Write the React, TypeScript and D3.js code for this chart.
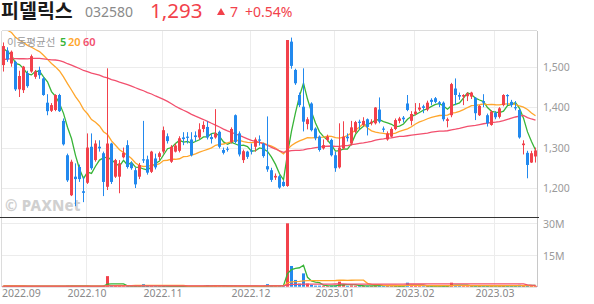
import React from "react";
import * as d3 from "d3";

const W = 594;
const H = 304;

const monthLabels = ["2022.09", "2022.10", "2022.11", "2022.12", "2023.01", "2023.02", "2023.03"];
const monthStartIndex = [0, 21, 40, 62, 83, 103, 123];
const priceTicks = [1200, 1300, 1400, 1500];
const priceTickLabels = ["1,200", "1,300", "1,400", "1,500"];
const volumeTicks = [15, 30];
const volumeTickLabels = ["15M", "30M"];

const opens = [
  1504, 1540, 1508, 1512, 1444, 1442, 1484, 1488, 1475, 1492,
  1471, 1411, 1391, 1393, 1430, 1366, 1281, 1182, 1228, 1252,
  1192, 1213, 1302, 1269, 1302, 1286, 1203, 1310, 1228, 1228,
  1276, 1306, 1261, 1244, 1228, 1271, 1271, 1240, 1273, 1277,
  1290, 1328, 1265, 1290, 1292, 1325, 1327, 1320, 1330, 1325,
  1346, 1351, 1326, 1325, 1339, 1294, 1297, 1314, 1380, 1335,
  1269, 1290, 1293, 1302, 1320, 1310, 1254, 1244, 1226, 1229,
  1215, 1205, 1562, 1492, 1430, 1401, 1358, 1409, 1347, 1327,
  1298, 1319, 1319, 1281, 1251, 1298, 1327, 1310, 1339, 1364,
  1356, 1370, 1360, 1360, 1394, 1347, 1320, 1327, 1346, 1366,
  1374, 1409, 1366, 1383, 1394, 1402, 1394, 1418, 1422, 1412,
  1411, 1366, 1380, 1446, 1430, 1426, 1427, 1426, 1423, 1380,
  1415, 1380, 1356, 1386, 1376, 1405, 1430, 1413, 1400, 1393,
  1306, 1287, 1263, 1278,
];
const highs = [
  1560, 1548, 1540, 1515, 1490, 1502, 1490, 1530, 1492, 1500,
  1475, 1432, 1410, 1432, 1433, 1372, 1285, 1270, 1261, 1258,
  1228, 1335, 1335, 1318, 1318, 1290, 1496, 1312, 1272, 1269,
  1300, 1318, 1266, 1250, 1262, 1366, 1280, 1292, 1285, 1290,
  1352, 1335, 1306, 1310, 1328, 1338, 1338, 1338, 1340, 1360,
  1365, 1365, 1335, 1395, 1342, 1300, 1302, 1350, 1382, 1340,
  1295, 1292, 1310, 1325, 1330, 1312, 1377, 1250, 1236, 1232,
  1218, 1566, 1572, 1495, 1436, 1496, 1375, 1412, 1350, 1330,
  1320, 1332, 1322, 1290, 1360, 1365, 1335, 1366, 1366, 1369,
  1375, 1372, 1370, 1400, 1424, 1352, 1340, 1350, 1372, 1376,
  1378, 1430, 1390, 1410, 1410, 1406, 1416, 1422, 1425, 1415,
  1414, 1374, 1460, 1471, 1436, 1432, 1436, 1438, 1425, 1405,
  1432, 1384, 1392, 1390, 1400, 1432, 1432, 1418, 1415, 1395,
  1318, 1292, 1292, 1300,
];
const lows = [
  1488, 1512, 1500, 1440, 1425, 1435, 1448, 1485, 1470, 1470,
  1428, 1380, 1388, 1390, 1388, 1305, 1215, 1180, 1155, 1215,
  1165, 1210, 1245, 1265, 1290, 1180, 1195, 1210, 1225, 1187,
  1273, 1248, 1245, 1200, 1222, 1262, 1233, 1237, 1246, 1268,
  1285, 1310, 1262, 1288, 1288, 1306, 1310, 1278, 1315, 1320,
  1338, 1320, 1310, 1322, 1298, 1283, 1290, 1310, 1310, 1278,
  1262, 1272, 1283, 1290, 1305, 1275, 1240, 1215, 1220, 1198,
  1203, 1203, 1495, 1455, 1400, 1340, 1345, 1340, 1318, 1290,
  1295, 1315, 1278, 1240, 1248, 1295, 1315, 1305, 1335, 1345,
  1352, 1330, 1355, 1357, 1360, 1338, 1317, 1325, 1343, 1360,
  1362, 1390, 1355, 1380, 1390, 1385, 1390, 1405, 1410, 1400,
  1365, 1350, 1375, 1405, 1418, 1405, 1415, 1420, 1368, 1378,
  1400, 1352, 1354, 1370, 1372, 1402, 1405, 1400, 1392, 1322,
  1283, 1224, 1262, 1263,
];
const closes = [
  1551, 1518, 1537, 1444, 1477, 1500, 1452, 1526, 1488, 1479,
  1430, 1390, 1405, 1430, 1390, 1308, 1219, 1265, 1222, 1222,
  1188, 1300, 1249, 1310, 1298, 1215, 1310, 1215, 1269, 1261,
  1287, 1252, 1249, 1209, 1257, 1268, 1238, 1290, 1251, 1286,
  1343, 1316, 1302, 1305, 1323, 1321, 1324, 1281, 1326, 1345,
  1356, 1325, 1321, 1335, 1302, 1287, 1295, 1346, 1314, 1283,
  1291, 1277, 1290, 1320, 1317, 1279, 1246, 1220, 1230, 1201,
  1205, 1566, 1502, 1459, 1405, 1364, 1370, 1343, 1323, 1294,
  1306, 1327, 1281, 1249, 1300, 1327, 1323, 1350, 1363, 1361,
  1366, 1351, 1364, 1399, 1364, 1344, 1335, 1346, 1368, 1372,
  1370, 1393, 1383, 1389, 1399, 1398, 1411, 1413, 1413, 1408,
  1370, 1370, 1457, 1430, 1426, 1430, 1434, 1436, 1385, 1403,
  1411, 1360, 1389, 1375, 1397, 1430, 1427, 1405, 1397, 1325,
  1310, 1257, 1286, 1293,
];
// volume in millions of shares
const volumes = [
  0.4, 0.3, 0.3, 0.4, 0.3, 0.3, 0.2, 0.3, 0.2, 0.2,
  0.3, 0.3, 0.2, 0.2, 0.2, 0.3, 0.5, 0.4, 0.3, 0.3,
  0.3, 0.3, 0.3, 0.2, 0.2, 0.4, 5.0, 0.8, 0.4, 0.3,
  0.2, 0.3, 0.2, 0.3, 0.2, 1.2, 0.4, 0.3, 0.2, 0.2,
  0.3, 0.2, 0.2, 0.2, 0.2, 0.2, 0.2, 0.2, 0.2, 0.2,
  0.3, 0.8, 0.2, 0.8, 0.3, 0.2, 0.2, 0.3, 0.4, 0.3,
  0.2, 0.2, 0.2, 0.2, 0.2, 0.3, 1.2, 0.4, 0.2, 0.3,
  0.3, 30.0, 9.8, 3.2, 1.5, 6.3, 1.5, 0.9, 0.5, 0.5,
  0.4, 0.3, 0.4, 0.5, 2.4, 1.0, 0.4, 0.6, 0.5, 0.3,
  0.4, 0.3, 0.3, 0.9, 0.7, 0.3, 0.3, 0.3, 0.4, 0.3,
  0.2, 1.9, 0.6, 0.4, 0.3, 0.3, 0.4, 0.3, 0.3, 0.3,
  0.5, 0.3, 1.9, 0.8, 0.4, 0.3, 0.3, 0.3, 0.5, 0.4,
  0.3, 0.4, 0.4, 0.3, 0.4, 0.6, 0.3, 0.3, 0.3, 0.9,
  0.7, 0.6, 0.4, 0.4,
];
// estimated sessions before the visible window (only feed the moving averages)
const priorCloses = [
  1460, 1470, 1455, 1480, 1490, 1475, 1465, 1470, 1485, 1495,
  1480, 1470, 1460, 1475, 1490, 1500, 1485, 1470, 1465, 1480,
  1475, 1470, 1460, 1455, 1470, 1465, 1450, 1445, 1460, 1470,
  1455, 1450, 1465, 1480, 1490, 1500, 1510, 1541, 1545, 1590,
  1620, 1650, 1680, 1625, 1610, 1590, 1620, 1600, 1585, 1610,
  1595, 1605, 1600, 1590, 1599, 1558, 1577, 1549, 1490,
];
const priorVolumes = [
  0.3, 0.2, 0.3, 0.2, 0.2, 0.3, 0.2, 0.2, 0.3, 0.2,
  0.2, 0.2, 0.3, 0.2, 0.2, 0.2, 0.3, 0.2, 0.2, 0.2,
  0.3, 0.2, 0.2, 0.2, 0.2, 0.3, 0.2, 0.2, 0.2, 0.3,
  0.2, 0.2, 0.3, 0.2, 0.2, 0.3, 0.3, 0.4, 0.3, 0.5,
  0.6, 0.5, 0.6, 0.4, 0.3, 0.3, 0.4, 0.3, 0.3, 0.3,
  0.3, 0.3, 0.2, 0.3, 0.3, 0.3, 0.4, 0.3, 0.4,
];
const maPeriods = [5, 20, 60];
const maColors = ["#38b438", "#ffa62b", "#f2506e"];

const UP = "#f2414b";
const DOWN = "#2289ee";
const FONT = "'Noto Sans', 'Noto Sans CJK KR', sans-serif";
const KFONT = "'Noto Sans CJK KR', 'Noto Sans', sans-serif";

const PL = 2;
const PR = 537;
const PT = 31;
const PB = 217;
const VB = 287;

function movingAverage(prior: number[], values: number[], n: number): number[] {
  const all = prior.concat(values);
  const off = prior.length;
  return values.map((_, i) => {
    const end = off + i;
    const start = end - n + 1;
    return d3.mean(all.slice(Math.max(0, start), end + 1)) as number;
  });
}

export default function App() {
  const n = closes.length;
  const x = d3.scaleLinear().domain([0, n - 1]).range([3.3, 535.3]);
  const y = d3.scaleLinear().domain([1200, 1500]).range([188, 66.7]);
  const yv = d3.scaleLinear().domain([0, 30]).range([286.7, 223.3]);
  const cx = (i: number) => Math.round(x(i));

  const priceMAs = maPeriods.map((p) => movingAverage(priorCloses, closes, p));
  const volMAs = maPeriods.map((p) => movingAverage(priorVolumes, volumes, p));

  const priceLine = d3
    .line<number>()
    .x((_, i) => cx(i) + 0.5)
    .y((d) => y(d));
  const volLine = d3
    .line<number>()
    .x((_, i) => cx(i) + 0.5)
    .y((d) => yv(d));

  const grid = "#ececec";

  return (
    <svg
      width={W}
      height={H}
      viewBox={`0 0 ${W} ${H}`}
      style={{ position: "absolute", left: 0, top: 0, background: "#fff" }}
    >
      <defs>
        <clipPath id="mainClip">
          <rect x={PL} y={PT} width={PR - PL} height={PB - PT} />
        </clipPath>
        <clipPath id="volClip">
          <rect x={PL} y={PB + 1} width={PR - PL} height={VB - PB - 1} />
        </clipPath>
      </defs>

      {/* header */}
      <text x={1} y={18} fontFamily={KFONT} fontSize={19.5} fontWeight={700} fill="#1a1a1a">
        피델릭스
      </text>
      <text x={85} y={16.5} fontFamily={FONT} fontSize={14} fill="#8a8a8a">
        032580
      </text>
      <text x={150} y={18} fontFamily={FONT} fontSize={20.5} fill={UP}>
        1,293
      </text>
      <path d="M217,15 L221,8 L225,15 Z" fill={UP} />
      <text x={230} y={16.5} fontFamily={FONT} fontSize={14} fill={UP}>
        7
      </text>
      <text x={245} y={16.5} fontFamily={FONT} fontSize={14} fill={UP}>
        +0.54%
      </text>

      {/* grid */}
      {priceTicks.map((t) => (
        <line key={"hp" + t} x1={PL} x2={PR} y1={Math.round(y(t)) + 0.5} y2={Math.round(y(t)) + 0.5} stroke={grid} />
      ))}
      {volumeTicks.map((t) => (
        <line key={"hv" + t} x1={PL} x2={PR} y1={Math.round(yv(t)) + 0.5} y2={Math.round(yv(t)) + 0.5} stroke={grid} />
      ))}
      {monthStartIndex.slice(1).map((idx) => (
        <line key={"vg" + idx} x1={cx(idx) - 0.5} x2={cx(idx) - 0.5} y1={PT} y2={VB} stroke={grid} />
      ))}

      {/* frame */}
      <line x1={PL} x2={PR} y1={30.5} y2={30.5} stroke="#dcdcdc" />
      <line x1={1.5} x2={1.5} y1={PT} y2={VB} stroke="#dcdcdc" />
      <line x1={PR + 0.5} x2={PR + 0.5} y1={PT} y2={VB} stroke="#c8c8c8" />
      <line x1={PL} x2={PR} y1={VB + 0.5} y2={VB + 0.5} stroke="#e4e4e4" />

      {/* watermark */}
      <text x={5} y={211} fontFamily={FONT} fontSize={15} fontWeight={800} fill="#d0d0d0" letterSpacing={0.2}>
        © PAXNet
      </text>

      {/* moving averages (price) */}
      <g clipPath="url(#mainClip)">
        {priceMAs.map((ma, k) => (
          <path key={"pma" + k} d={priceLine(ma) || ""} fill="none" stroke={maColors[k]} strokeWidth={1.3} />
        ))}
        {/* candles */}
        {closes.map((c, i) => {
          const o = opens[i];
          const up = c >= o;
          const col = up ? UP : DOWN;
          const top = y(Math.max(o, c));
          const h = Math.max(1, Math.abs(y(o) - y(c)));
          return (
            <g key={"c" + i}>
              <line x1={cx(i) + 0.5} x2={cx(i) + 0.5} y1={y(highs[i])} y2={y(lows[i])} stroke={col} strokeWidth={1} />
              <rect x={cx(i) - 1} y={top} width={3} height={h} fill={col} />
            </g>
          );
        })}
      </g>

      {/* volume */}
      <g clipPath="url(#volClip)">
        {volumes.map((v, i) => {
          const col = closes[i] >= opens[i] ? UP : DOWN;
          const top = yv(v);
          return <rect key={"v" + i} x={cx(i) - 1} y={top} width={3} height={Math.max(0.5, yv(0) - top)} fill={col} />;
        })}
        {volMAs.map((ma, k) => (
          <path key={"vma" + k} d={volLine(ma) || ""} fill="none" stroke={maColors[k]} strokeWidth={1.3} />
        ))}
      </g>

      {/* separator */}
      <line x1={0} x2={539} y1={217.5} y2={217.5} stroke="#333" />

      {/* legend */}
      <text x={7} y={45.5} fontFamily={KFONT} fontSize={10.5} fill="#9a9a9a">
        이동평균선
      </text>
      {["5", "20", "60"].map((s, k) => (
        <text key={"lg" + k} x={[60, 68, 83][k]} y={45.5} fontFamily={FONT} fontSize={11} fontWeight={600} fill={maColors[k]}>
          {s}
        </text>
      ))}

      {/* right axis labels */}
      {priceTicks.map((t, k) => (
        <text key={"pl" + t} x={543} y={y(t) + 4} fontFamily={FONT} fontSize={10.5} fill="#9a9a9a">
          {priceTickLabels[k]}
        </text>
      ))}
      {volumeTicks.map((t, k) => (
        <text key={"vl" + t} x={543} y={yv(t) + 5} fontFamily={FONT} fontSize={10.5} fill="#9a9a9a">
          {volumeTickLabels[k]}
        </text>
      ))}

      {/* x labels */}
      {monthStartIndex.map((idx, k) => (
        <text
          key={"xl" + idx}
          x={k === 0 ? 2 : cx(idx)}
          y={297}
          textAnchor={k === 0 ? "start" : "middle"}
          fontFamily={FONT}
          fontSize={10.5}
          fill="#8a8a8a"
        >
          {monthLabels[k]}
        </text>
      ))}
    </svg>
  );
}
